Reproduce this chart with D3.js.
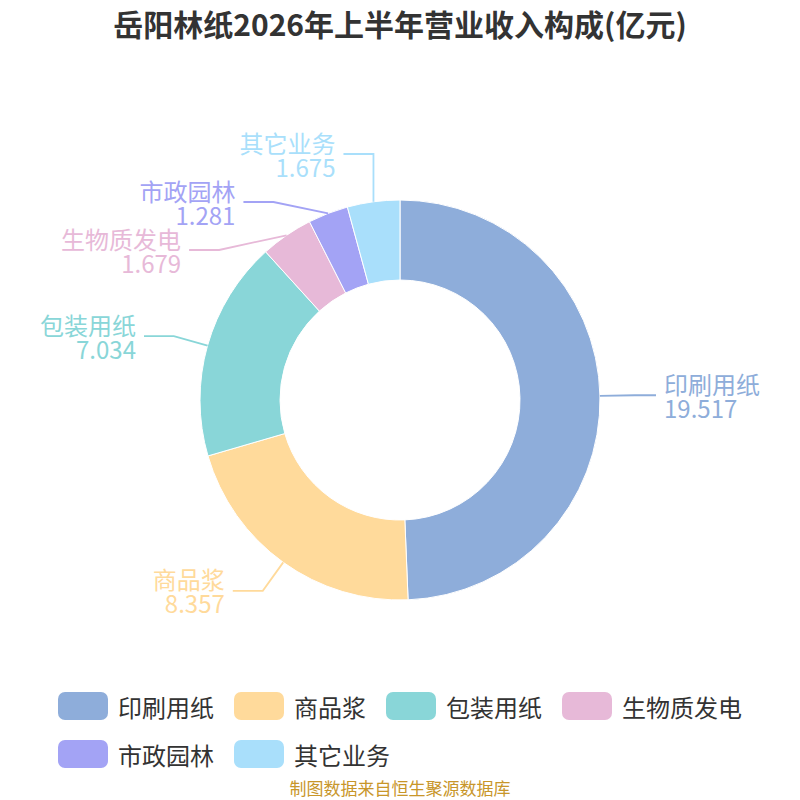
<!DOCTYPE html>
<html>
<head>
<meta charset="utf-8">
<script src="https://cdn.jsdelivr.net/npm/d3@7"></script>
<style>
  body { margin: 0; background: #fff; }
  svg { display: block; font-family: "Noto Sans CJK SC", "Noto Sans", sans-serif; }
</style>
</head>
<body>
<svg id="chart" width="800" height="800"></svg>
<script>
// data
const categories = ["印刷用纸", "商品浆", "包装用纸", "生物质发电", "市政园林", "其它业务"];
const values = [19.517, 8.357, 7.034, 1.679, 1.281, 1.675];
const colors = ["#8eadda", "#ffda9b", "#89d6d8", "#e7b9d8", "#a3a3f5", "#a9dffb"];

const titleText = "岳阳林纸2026年上半年营业收入构成(亿元)";
const sourceText = "制图数据来自恒生聚源数据库";

const w = 800, h = 800;
const cx = 400, cy = 400;
const rOuter = 200, rInner = 120;
const lineLen = 35, lineLen2 = 30;
const labelGap = 48;

const svg = d3.select("#chart");

svg.append("text")
  .text(titleText)
  .attr("x", w / 2)
  .attr("y", 23)
  .attr("text-anchor", "middle")
  .attr("dominant-baseline", "central")
  .attr("font-size", "30px")
  .attr("font-weight", "bold")
  .attr("fill", "#333");

const rows = categories.map((c, i) => ({ name: c, value: values[i], color: colors[i] }));

const pie = d3.pie().sort(null).value(d => d.value);
const arc = d3.arc().innerRadius(rInner).outerRadius(rOuter);
const arcs = pie(rows);

const ring = svg.append("g").attr("transform", "translate(" + cx + "," + cy + ")");
ring.selectAll("path")
  .data(arcs)
  .join("path")
  .attr("d", arc)
  .attr("fill", d => d.data.color)
  .attr("stroke", "#fff")
  .attr("stroke-width", 1);

// label positions: start on the line-end circle, then spread apart per side
const R = rOuter + lineLen;
const labels = arcs.map(d => {
  const mid = (d.startAngle + d.endAngle) / 2;
  return {
    d: d,
    dir: Math.sin(mid) >= 0 ? 1 : -1,
    ax: cx + rOuter * Math.sin(mid),
    ay: cy - rOuter * Math.cos(mid),
    y: cy - R * Math.cos(mid)
  };
});

function spread(items, minY, maxY) {
  items.sort((a, b) => a.y - b.y);
  for (let k = 0; k < 200; k++) {
    for (let i = 1; i < items.length; i++) {
      const ov = labelGap - (items[i].y - items[i - 1].y);
      if (ov > 0) {
        items[i - 1].y -= ov / 2;
        items[i].y += ov / 2;
      }
    }
    items.forEach(t => { t.y = Math.max(minY, Math.min(maxY, t.y)); });
  }
}
spread(labels.filter(t => t.dir < 0), 154, 640);
spread(labels.filter(t => t.dir > 0), 154, 640);

const labelG = svg.append("g");
labels.forEach(t => {
  const dy = t.y - cy;
  let ex = Math.abs(dy) < R ? cx + t.dir * Math.sqrt(R * R - dy * dy) : t.ax;
  if (t.dir < 0) ex = Math.min(ex, t.ax); else ex = Math.max(ex, t.ax);
  let lx = ex + t.dir * lineLen2;

  const txt = labelG.append("text")
    .attr("fill", t.d.data.color)
    .attr("font-size", "24px")
    .attr("text-anchor", t.dir < 0 ? "end" : "start");
  txt.append("tspan").attr("x", 0).attr("dominant-baseline", "central").text(t.d.data.name);
  txt.append("tspan").attr("x", 0).attr("dominant-baseline", "central").text(t.d.data.value);

  // keep text inside the view
  const tw = txt.node().getBBox().width;
  if (t.dir > 0 && lx + 8 + tw > 760) lx = 760 - 8 - tw;
  if (t.dir < 0 && lx - 8 - tw < 40) lx = 40 + 8 + tw;

  const tx = lx + t.dir * 8;
  txt.selectAll("tspan")
    .attr("x", tx)
    .attr("y", (_, i) => i === 0 ? t.y - 12 : t.y + 12);

  labelG.append("path")
    .attr("d", d3.line()([[t.ax, t.ay], [ex, t.y], [lx, t.y]]))
    .attr("fill", "none")
    .attr("stroke", t.d.data.color)
    .attr("stroke-width", 1.8);
});

// legend, flowing rows centred as one block
const legend = svg.append("g");
const sw = 50, sh = 28, itemGap = 20, textGap = 10, rowH = 48, maxW = 720;
const items = rows.map(r => {
  const g = legend.append("g");
  g.append("rect")
    .attr("width", sw).attr("height", sh)
    .attr("rx", 7).attr("ry", 7)
    .attr("y", -sh / 2)
    .attr("fill", r.color);
  const t = g.append("text")
    .text(r.name)
    .attr("x", sw + textGap)
    .attr("dominant-baseline", "central")
    .attr("font-size", "24px")
    .attr("fill", "#333");
  return { g: g, width: sw + textGap + t.node().getComputedTextLength() };
});
let px = 0, row = 0, blockW = 0;
items.forEach(it => {
  if (px > 0 && px + it.width > maxW) { px = 0; row++; }
  it.x = px; it.row = row;
  blockW = Math.max(blockW, px + it.width);
  px += it.width + itemGap;
});
const x0 = (w - blockW) / 2;
items.forEach(it => it.g.attr("transform", "translate(" + (x0 + it.x) + "," + (706 + it.row * rowH) + ")"));

svg.append("text")
  .text(sourceText)
  .attr("x", w / 2)
  .attr("y", 787)
  .attr("text-anchor", "middle")
  .attr("dominant-baseline", "central")
  .attr("font-size", "17px")
  .attr("fill", "#c8962a");
</script>
</body>
</html>
